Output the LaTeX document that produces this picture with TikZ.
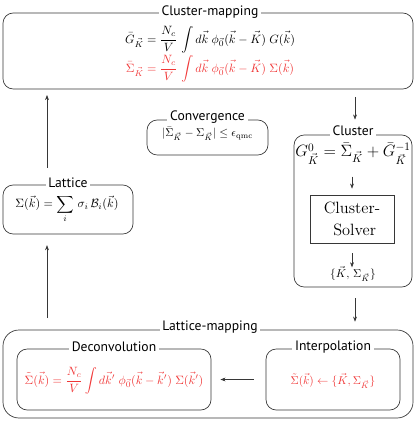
\documentclass[tikz,border=0pt]{standalone}
\usepackage{amsmath}
\usepackage{graphicx}
\usepackage{fontspec}
\setsansfont{PT Sans}
\usetikzlibrary{arrows.meta,fit,calc}
\definecolor{eqred}{RGB}{240,55,55}
\definecolor{boxline}{RGB}{55,55,55}
\newcommand{\eqs}[1]{\scalebox{1.06}{#1}}
\begin{document}
\begin{tikzpicture}[x=0.88pt,y=-0.88pt,
  frame/.style={draw=boxline, line width=0.6pt, rounded corners=9pt, inner sep=0pt},
  sframe/.style={draw=boxline, line width=0.6pt, inner sep=0pt},
  ttl/.style={fill=white, font=\sffamily\large, inner sep=2.5pt},
  arr/.style={-{Stealth[length=4.5pt,width=3.4pt]}, line width=0.5pt, draw=boxline},
  eq/.style={inner sep=1pt},
  req/.style={inner sep=1pt, text=eqred}]
\useasboundingbox (0,0) rectangle (416,422);

% Cluster-mapping
\node[frame, fit={(3,13) (413,89)}] (cm) {};
\node[ttl] (cmt) at (210,12) {Cluster-mapping};
\node[eq] (cme1) at (210,40) {\eqs{$\bar G_{\vec K} = \dfrac{N_c}{V}\,\displaystyle\int d\vec k\;\phi_{\vec 0}(\vec k-\vec K)\;G(\vec k)$}};
\node[req] (cme2) at (210,69) {\eqs{$\bar \Sigma_{\vec K} = \dfrac{N_c}{V}\,\displaystyle\int d\vec k\;\phi_{\vec 0}(\vec k-\vec K)\;\Sigma(\vec k)$}};

% Convergence
\node[frame, fit={(147,120) (268,155)}] (cv) {};
\node[ttl] (cvt) at (207.5,117) {Convergence};
\node[eq] (cve) at (207.5,134) {$|\bar\Sigma_{\vec K}-\Sigma_{\vec K}|\le\epsilon_{\mathrm{qmc}}$};

% Lattice
\node[frame, fit={(3,185) (133,234)}] (lat) {};
\node[ttl] (latt) at (68,183) {Lattice};
\node[eq] (late) at (67,209) {\eqs{$\Sigma(\vec k)=\displaystyle\sum_i\,\sigma_i\,\mathcal{B}_i(\vec k)$}};

% Cluster
\node[frame, fit={(294,135) (412,287)}] (cl) {};
\node[ttl] (clt) at (353,131) {Cluster};
\node[eq, font=\Large] (g0) at (353,154) {$G^0_{\vec K}=\bar\Sigma_{\vec K}+\bar G^{-1}_{\vec K}$};
\node[sframe, fit={(310,195) (394,243)}] (solver) {};
\node[font=\Large, align=center, inner sep=0pt] (solvert) at (352,219) {Cluster-\\[2pt]\ Solver};
\node[eq] (kset) at (353,274) {$\{\vec K,\,\Sigma_{\vec K}\}$};

% Lattice-mapping
\node[frame, rounded corners=14pt, fit={(3,330) (413,418)}] (lm) {};
\node[ttl] (lmt) at (210,327) {Lattice-mapping};
\node[frame, fit={(17,349) (211,410)}] (dc) {};
\node[ttl] (dct) at (114,347) {Deconvolution};
\node[req] (dce) at (114,381) {\eqs{$\tilde\Sigma(\vec k)=\dfrac{N_c}{V}\displaystyle\int d\vec k'\;\phi_{\vec 0}(\vec k-\vec k')\;\Sigma(\vec k')$}};
\node[frame, fit={(266,349) (400,410)}] (ip) {};
\node[ttl] (ipt) at (333,347) {Interpolation};
\node[req] (ipe) at (333,381) {$\tilde\Sigma(\vec k)\leftarrow\{\vec K,\Sigma_{\vec K}\}$};

% connectors
\coordinate (a1) at (47,168);
\draw[arr, shorten >=5pt] (a1) -- (a1 |- cm.south);
\coordinate (a2) at (47,318);
\draw[arr, shorten >=9.5pt] (a2) -- (a2 |- lat.south);
\coordinate (a3) at (355,97);
\draw[arr, shorten >=3pt] (a3) -- (a3 |- clt.north);
\coordinate (a4) at (355,298);
\draw[arr, shorten >=7pt] (a4) -- (a4 |- lm.north);
\draw[arr, shorten <=10.5pt, shorten >=8pt] (ip.west) -- (dc.east);
\draw[arr] ($(solver.north)+(0,-18)$) -- ($(solver.north)+(0,-6)$);
\draw[arr] ($(solver.south)+(0,10)$) -- ($(solver.south)+(0,24)$);
\end{tikzpicture}
\end{document}
